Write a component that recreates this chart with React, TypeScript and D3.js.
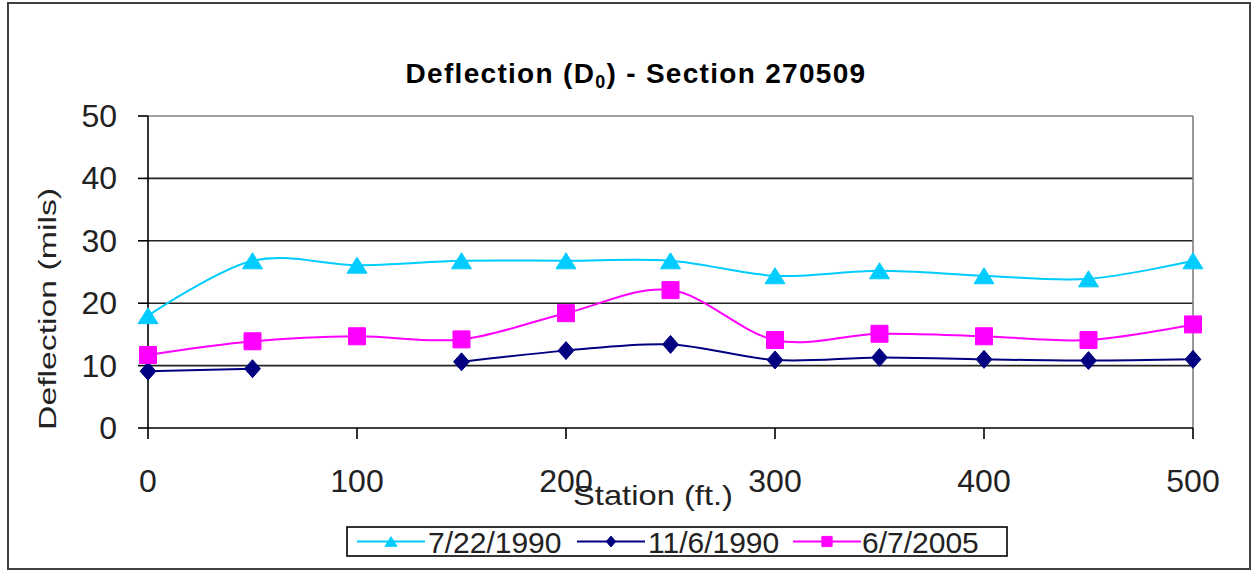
import React from 'react';
import * as d3 from 'd3';

const stations = [0, 50, 100, 150, 200, 250, 300, 350, 400, 450, 500];
const series1Label = '7/22/1990';
const series1: (number | null)[] = [18.0, 26.8, 26.1, 26.8, 26.8, 26.8, 24.4, 25.2, 24.4, 23.9, 26.8];
const series2Label = '11/6/1990';
const series2: (number | null)[] = [9.1, 9.5, null, 10.6, 12.4, 13.4, 10.9, 11.3, 11.0, 10.8, 11.0];
const series3Label = '6/7/2005';
const series3: (number | null)[] = [11.7, 13.9, 14.7, 14.2, 18.4, 22.1, 14.1, 15.1, 14.7, 14.1, 16.6];
const yTicks = [0, 10, 20, 30, 40, 50];
const xTicks = [0, 100, 200, 300, 400, 500];

const W = 1252;
const H = 571;
const FONT = '"Liberation Sans", Arial, sans-serif';

type Marker = 'triangle' | 'diamond' | 'square';

function markerPath(m: Marker, s: number): string {
  if (m === 'triangle') return `M0,${-0.8 * s} L${s},${0.8 * s} L${-s},${0.8 * s} Z`;
  if (m === 'diamond') return `M0,${-s} L${0.88 * s},0 L0,${s} L${-0.88 * s},0 Z`;
  return `M${-s},${-s} H${s} V${s} H${-s} Z`;
}

const seriesDefs = [
  { label: series1Label, values: series1, color: '#00CCFF', marker: 'triangle' as Marker, size: 10 },
  { label: series2Label, values: series2, color: '#000080', marker: 'diamond' as Marker, size: 9 },
  { label: series3Label, values: series3, color: '#FF00FF', marker: 'square' as Marker, size: 8.5 },
];

export default function App() {
  const x = d3.scaleLinear().domain([0, 500]).range([148, 1193]);
  const y = d3.scaleLinear().domain([0, 50]).range([428, 116]);

  const line = d3
    .line<[number, number | null]>()
    .defined((d) => d[1] != null)
    .x((d) => x(d[0]))
    .y((d) => y(d[1] as number))
    .curve(d3.curveCardinal.tension(0));

  const legendItems = [
    { lx: 357, tx: 428 },
    { lx: 577, tx: 648 },
    { lx: 793, tx: 862 },
  ];

  return (
    <svg
      width={W}
      height={H}
      style={{ position: 'absolute', left: 0, top: 0, background: '#fff' }}
      fontFamily={FONT}
    >
      <rect x={0} y={0} width={W} height={H} fill="#fff" />
      {/* outer border */}
      <rect x={8} y={3} width={1242} height={566} fill="none" stroke="#404040" strokeWidth={2} />

      {/* title */}
      <text x={636} y={83} textAnchor="middle" fontSize={28} fontWeight="bold" letterSpacing={1.3} fill="#000">
        Deflection (D
        <tspan fontSize={18} dy={5}>0</tspan>
        <tspan dy={-5}>) - Section 270509</tspan>
      </text>

      {/* gridlines */}
      {yTicks.filter((t) => t > 0 && t < 50).map((t) => (
        <line key={t} x1={x(0)} x2={x(500)} y1={y(t)} y2={y(t)} stroke="#222" strokeWidth={1.6} />
      ))}
      {/* plot border top/right */}
      <line x1={x(0)} x2={x(500)} y1={y(50)} y2={y(50)} stroke="#808080" strokeWidth={1.6} />
      <line x1={x(500)} x2={x(500)} y1={y(50)} y2={y(0)} stroke="#808080" strokeWidth={1.6} />

      {/* y axis */}
      <line x1={x(0)} x2={x(0)} y1={y(50)} y2={y(0)} stroke="#000" strokeWidth={1.6} />
      {yTicks.map((t) => (
        <g key={t}>
          <line x1={x(0) - 10} x2={x(0)} y1={y(t)} y2={y(t)} stroke="#000" strokeWidth={1.6} />
          <text x={117} y={y(t) + 11} textAnchor="end" fontSize={32} fill="#222">
            {t}
          </text>
        </g>
      ))}

      {/* x axis */}
      <line x1={x(0)} x2={x(500)} y1={y(0)} y2={y(0)} stroke="#000" strokeWidth={1.6} />
      {xTicks.map((t) => (
        <g key={t}>
          <line x1={x(t)} x2={x(t)} y1={y(0)} y2={y(0) + 11} stroke="#000" strokeWidth={1.6} />
          <text x={x(t)} y={492} textAnchor="middle" fontSize={32} fill="#222">
            {t}
          </text>
        </g>
      ))}

      {/* axis titles */}
      <text x={653} y={505} textAnchor="middle" fontSize={28} textLength={160} lengthAdjust="spacingAndGlyphs" fill="#222">
        Station (ft.)
      </text>
      <text
        transform={`translate(56,309) rotate(-90)`}
        textAnchor="middle"
        fontSize={23}
        textLength={242}
        lengthAdjust="spacingAndGlyphs"
        fill="#222"
      >
        Deflection (mils)
      </text>

      {/* series */}
      {seriesDefs.map((s) => {
        const pts: [number, number | null][] = stations.map((st, i) => [st, s.values[i]]);
        return (
          <g key={s.label}>
            <path d={line(pts) || ''} fill="none" stroke={s.color} strokeWidth={2} />
            {pts
              .filter((p) => p[1] != null)
              .map((p) => (
                <path
                  key={p[0]}
                  d={markerPath(s.marker, s.size)}
                  transform={`translate(${x(p[0])},${y(p[1] as number)})`}
                  fill={s.color}
                  stroke={s.color}
                  strokeWidth={1}
                />
              ))}
          </g>
        );
      })}

      {/* legend */}
      <rect x={347} y={527} width={660} height={29} fill="#fff" stroke="#000" strokeWidth={1.6} />
      {seriesDefs.map((s, i) => {
        const it = legendItems[i];
        return (
          <g key={s.label}>
            <line x1={it.lx} x2={it.lx + 68} y1={541.5} y2={541.5} stroke={s.color} strokeWidth={2} />
            <path
              d={markerPath(s.marker, s.size * 0.6)}
              transform={`translate(${it.lx + 34},541.5)`}
              fill={s.color}
              stroke={s.color}
            />
            <text x={it.tx} y={553} fontSize={30} fill="#222">
              {s.label}
            </text>
          </g>
        );
      })}
    </svg>
  );
}
